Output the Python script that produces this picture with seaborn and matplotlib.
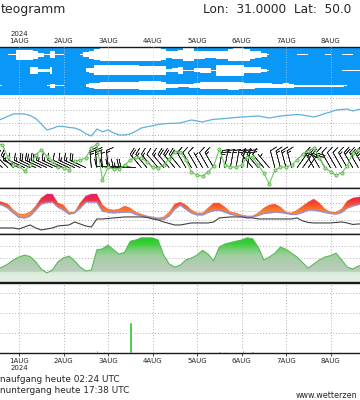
import numpy as np
import matplotlib
matplotlib.use('Agg')
import matplotlib.pyplot as plt
from matplotlib.colors import LinearSegmentedColormap
import seaborn as sns

sns.set_style('white')
plt.rcParams['font.family'] = ['DejaVu Sans']

# 3-hourly steps, hours after 1 Aug 2024 00 UTC
hours = np.arange(-12, 189, 3)

day_hours = [0, 24, 48, 72, 96, 120, 144, 168]
day_labels = ['1AUG', '2AUG', '3AUG', '4AUG', '5AUG', '6AUG', '7AUG', '8AUG']

# cloud cover (0..1) per layer
high_cloud = [0, 0, 0.1, 0.1, 0.75, 0.75, 0.75, 0.6, 0.3, 0.1, 0.5, 0.1, 0.1, 0, 0, 0.1,
              0.4, 0.6, 0.8, 1, 1, 1, 1, 1, 1, 1, 1, 1, 1, 1, 0.8, 0.5,
              0.6, 0.7, 1, 1, 0.6, 0.6, 0.5, 0.5, 0.6, 0.6, 0.9, 1, 1, 0.9, 0.6, 0.5,
              0.3, 0.1, 0, 0, 0, 0, 0.1, 0.1, 0.1, 0, 0, 0.1, 0.1, 0, 0.1, 0.1,
              0.1, 0, 0]
mid_cloud = [0, 0, 0, 0, 0, 0, 0.5, 0.5, 0.2, 0.2, 0.5, 0, 0, 0, 0, 0,
             0.3, 0.4, 0.75, 0.75, 0.75, 0.75, 0.75, 0.75, 0.75, 0.75, 0.65, 0.65, 0.65, 0.65, 0.65, 0.2,
             0.3, 0.5, 0.1, 0.1, 0.3, 0.4, 0.4, 0.1, 0.85, 0.85, 0.85, 0.85, 0.8, 0.45, 0.45, 0.45,
             0.2, 0.1, 0, 0, 0, 0, 0, 0, 0, 0, 0, 0, 0, 0, 0.1, 0.1,
             0.1, 0.1, 0.1]
low_cloud = [0.1, 0.1, 0, 0, 0, 0, 0, 0, 0, 0.1, 0.3, 0.1, 0.1, 0, 0, 0,
             0.2, 0.35, 0.45, 0.55, 0.55, 0.55, 0.55, 0.55, 0.55, 0.55, 0.65, 0.65, 0.65, 0.65, 0.6, 0.3,
             0.3, 0.25, 0.25, 0.3, 0.4, 0.5, 0.5, 0.5, 0.5, 0.5, 0.6, 0.6, 0.5, 0.45, 0.45, 0.4,
             0.4, 0.35, 0.3, 0.3, 0.35, 0.3, 0.15, 0.15, 0.15, 0.15, 0.15, 0.15, 0.15, 0.15, 0.15, 0.08,
             0, 0, 0]

# sea level pressure, hPa
pressure = [1010.6, 1011.5, 1012.5, 1013.4, 1013.5, 1013.4, 1012.8, 1011.6, 1009.5, 1007.0, 1007.6,
            1008.5, 1008.4, 1008.0, 1007.8, 1007.0, 1005.5, 1004.6, 1007.4, 1006.3, 1007.0, 1005.8,
            1005.0, 1005.0, 1005.4, 1006.5, 1007.8, 1008.3, 1008.7, 1009.2, 1009.5, 1009.6, 1009.7,
            1009.8, 1010.4, 1011.0, 1010.6, 1010.2, 1010.8, 1011.3, 1011.4, 1011.6, 1011.8, 1012.0,
            1012.2, 1012.3, 1012.5, 1012.6, 1012.2, 1011.8, 1012.2, 1012.6, 1012.8, 1013.0, 1013.2,
            1013.0, 1012.6, 1012.2, 1012.8, 1013.6, 1014.2, 1015.0, 1015.2, 1015.4, 1014.6, 1015.2,
            1015.6]

# wind speed m/s and direction (deg, from)
wind_speed = [14.4, 13.7, 9.9, 7.3, 7.0, 5.4, 7.3, 10.5, 12.1, 10.2, 8.6, 6.7, 6.4, 5.7, 8.6, 8.9,
              9.6, 12.8, 14.0, 2.6, 6.7, 6.1, 6.1, 7.3, 8.9, 9.9, 9.6, 8.3, 6.7, 6.4, 7.3, 9.3,
              11.5, 11.5, 8.9, 5.1, 4.1, 3.8, 5.1, 7.0, 12.4, 7.3, 6.7, 6.7, 7.3, 9.9, 9.9, 7.3,
              4.8, 1.3, 5.7, 6.7, 6.7, 7.3, 8.9, 10.8, 11.8, 12.8, 9.6, 6.4, 5.1, 4.1, 4.8, 7.0,
              11.2, 12.1, 12.1]
wind_dir = [315, 315, 315, 315, 295, 295, 295, 295, 295, 295, 295, 295, 295, 295, 295, 295,
            295, 355, 355, 355, 355, 275, 275, 275, 275, 275, 320, 320, 320, 320, 320, 320,
            320, 320, 330, 330, 330, 330, 330, 330, 10, 10, 10, 10, 10, 10, 320, 320,
            320, 320, 345, 345, 345, 345, 35, 35, 35, 330, 330, 330, 330, 330, 330, 330,
            330, 330, 330]

# temperature band (upper / lower edge) and lower dark line, deg C
temp_high = [26.2, 25.6, 24.4, 20.8, 18.4, 18.4, 19.6, 23.2, 28.0, 30.4, 30.4, 25.0, 23.8, 19.6,
             19.6, 25.0, 29.2, 30.4, 30.4, 23.8, 21.4, 20.8, 21.4, 23.2, 22.0, 19.6, 18.4, 17.3,
             16.7, 16.1, 16.7, 19.6, 24.4, 25.6, 23.8, 20.8, 19.1, 19.1, 22.0, 25.0, 25.0, 22.6,
             19.6, 19.1, 17.9, 17.3, 17.3, 19.1, 22.0, 23.8, 24.4, 22.6, 19.6, 19.1, 20.8, 23.2,
             25.6, 27.4, 25.0, 21.4, 19.6, 19.6, 21.4, 26.2, 28.0, 28.6, 28.6]
temp_low = [24.4, 23.8, 22.0, 19.1, 16.5, 16.1, 17.3, 20.8, 24.4, 25.3, 25.6, 22.6, 20.8, 18.4,
            19.1, 22.0, 25.6, 25.6, 25.6, 20.2, 19.6, 19.1, 19.4, 19.6, 19.6, 18.2, 17.3, 16.7,
            16.1, 15.5, 15.2, 17.3, 21.4, 23.8, 21.4, 19.1, 17.9, 17.9, 19.4, 20.5, 20.8, 19.6,
            18.4, 17.6, 17.0, 16.7, 16.7, 17.6, 18.8, 19.1, 19.6, 19.4, 18.8, 18.2, 18.4, 19.4,
            20.8, 20.8, 20.2, 19.4, 18.8, 18.4, 19.4, 22.0, 23.2, 24.1, 24.4]
temp_dark = [10.1, 10.1, 10.1, 10.1, 9.5, 10.7, 11.9, 10.1, 8.9, 9.5, 10.1, 11.3, 11.6, 11.9,
             13.7, 12.5, 11.3, 10.7, 15.5, 15.5, 15.8, 16.1, 16.4, 16.7, 16.7, 16.7, 16.7, 16.4,
             15.5, 14.9, 13.7, 12.8, 11.9, 11.9, 12.5, 13.1, 13.1, 13.1, 13.1, 13.7, 16.1, 16.4,
             16.7, 16.7, 16.7, 16.1, 16.1, 15.5, 15.5, 15.5, 15.5, 15.5, 15.5, 15.5, 16.1, 14.3,
             13.4, 13.1, 13.1, 13.1, 13.1, 13.4, 13.7, 13.1, 12.2, 12.5, 12.5]

# relative humidity %
humidity = [27, 31, 37.5, 46, 52, 56, 53, 42, 27, 19, 25, 42, 50, 54, 44, 31,
            23, 25, 67, 69, 77, 67, 58, 62, 85, 87.5, 92, 92, 92, 87.5, 56, 37.5,
            31, 35, 46, 50, 56, 66, 58, 44, 73, 79, 82, 85, 87.5, 92, 90, 73,
            46, 52, 60, 73, 68, 60, 52, 40, 29, 37.5, 46, 52, 55, 60, 46, 31,
            27, 33, 37.5]

# precipitation mm / 3h
rain_green = [0] * 18 + [0.3, 0, 0.15, 0.15, 0, 0, 3.1, 0.15] + [0] * 14 + \
             [0.2, 0.2, 0, 0, 0, 0, 0.2, 0.15] + [0] * 19
rain_red = [0] * 19 + [0.2] + [0] * 24 + [0.35, 0, 0, 0, 0, 0.1] + [0] * 17

xlim = (-10.25, 183.9)
grid_kw = dict(color='#b0b0b0', linestyle=(0, (1, 2)), linewidth=0.7)

fig = plt.figure(figsize=(3.6, 4.0), dpi=100)


def panel(top, bottom):
    ax = fig.add_axes([0, 1 - bottom / 400, 1, (bottom - top) / 400])
    ax.set_xlim(*xlim)
    ax.set_xticks(day_hours)
    ax.tick_params(left=False, labelleft=False, bottom=False, labelbottom=False)
    for s in ['left', 'right']:
        ax.spines[s].set_visible(False)
    for s in ['top', 'bottom']:
        ax.spines[s].set_color('#1a1a1a')
        ax.spines[s].set_linewidth(1.0)
    ax.grid(True, **grid_kw)
    return ax


# clouds
ax_c = panel(47, 95)
ax_c.set_facecolor('#0a98f8')
ax_c.set_ylim(-0.1, 3.0)
ax_c.set_yticks([])
ax_c.grid(False)
ax_c.grid(True, axis='x', color='#b8cfe0', linestyle=(0, (1, 2)), linewidth=0.6)
ax_c.set_axisbelow(False)
for lvl, cover in [(2.5, high_cloud), (1.5, mid_cloud), (0.5, low_cloud)]:
    cover = np.array(cover)
    ax_c.fill_between(hours, lvl - 0.43 * cover, lvl + 0.43 * cover, where=cover > 0,
                      step='mid', color='white', lw=0, zorder=1)
ax_c.spines['bottom'].set_visible(False)
ax_c.xaxis.set_ticks_position('top')
ax_c.set_xticklabels(['2024\n' + day_labels[0]] + day_labels[1:])
ax_c.tick_params(axis='x', top=False, labeltop=True, labelbottom=False, length=0,
                 pad=2, labelsize=5)
for lab in ax_c.get_xticklabels():
    lab.set_linespacing(1.3)

# pressure
ax_p = panel(95, 141)
ax_p.set_ylim(1002.6, 1021)
ax_p.set_yticks([1005, 1010, 1015, 1020])
ax_p.spines['top'].set_visible(False)
sns.lineplot(x=hours, y=pressure, ax=ax_p, color='#5eb2dc', lw=0.9)

# wind
ax_w = panel(141, 188)
ax_w.set_ylim(0, 15)
ax_w.set_yticks([5, 10])
spd = np.array(wind_speed) * 1.94
rad = np.deg2rad(wind_dir)
ax_w.barbs(hours, np.full(len(hours), 6.5), -spd * np.sin(rad), -spd * np.cos(rad),
           length=5.0, linewidth=0.45, color='#202020', zorder=2)
sns.lineplot(x=hours, y=wind_speed, ax=ax_w, color='#6cc85a', lw=0.8, marker='o',
             markersize=2.3, markerfacecolor='#b0e8a4', markeredgecolor='#4aa83c',
             markeredgewidth=0.5, zorder=3)

# temperature
ax_t = panel(188, 234)
ax_t.set_ylim(6.5, 34)
ax_t.set_yticks([10, 15, 20, 25, 30])
tcmap = LinearSegmentedColormap.from_list('temp', [
    (0.0, '#f0b870'), (0.273, '#f0a860'), (0.418, '#f59038'), (0.527, '#f87a2a'),
    (0.636, '#fa5228'), (0.745, '#f02e40'), (0.855, '#e01c80'), (0.964, '#c81090'),
    (1.0, '#c01098')])
band = ax_t.fill_between(hours, temp_low, temp_high, facecolor='none', edgecolor='none')
img = ax_t.imshow(np.linspace(6.5, 34, 256)[:, None], extent=(hours[0], hours[-1], 6.5, 34),
                  origin='lower', aspect='auto', cmap=tcmap, zorder=2)
img.set_clip_path(band.get_paths()[0], transform=ax_t.transData)
sns.lineplot(x=hours, y=temp_high, ax=ax_t, color='#e8503a', lw=0.5, zorder=3, alpha=0.6)
sns.lineplot(x=hours, y=temp_low, ax=ax_t, color='#9c8ccc', lw=1.1, zorder=3)
sns.lineplot(x=hours, y=temp_dark, ax=ax_t, color='#404040', lw=0.8, zorder=3)
ax_t.set_xlim(*xlim)
ax_t.set_ylim(6.5, 34)

# humidity
ax_h = panel(234, 282)
ax_h.set_ylim(0, 100)
ax_h.set_yticks([25, 50, 75])
hcmap = LinearSegmentedColormap.from_list('rh', [
    (0.0, '#e4f2e4'), (0.2, '#dcecdc'), (0.22, '#bccebc'), (0.4, '#b0ccb0'),
    (0.55, '#a0d0a0'), (0.7, '#70cc70'), (0.8, '#38d038'), (1.0, '#10c810')])
area = ax_h.fill_between(hours, 0, humidity, facecolor='none', edgecolor='none')
img = ax_h.imshow(np.linspace(0, 100, 256)[:, None], extent=(hours[0], hours[-1], 0, 100),
                  origin='lower', aspect='auto', cmap=hcmap, zorder=1)
img.set_clip_path(area.get_paths()[0], transform=ax_h.transData)
sns.lineplot(x=hours, y=humidity, ax=ax_h, color='#5cb85c', lw=0.8, zorder=3)
ax_h.set_xlim(*xlim)
ax_h.set_ylim(0, 100)

# precipitation
ax_r = panel(283, 353)
ax_r.set_ylim(0, 7)
ax_r.set_yticks([2, 4, 6])
ax_r.bar(hours, rain_green, width=1.4, color='#22c822', zorder=2)
ax_r.bar(hours + 0.8, rain_red, width=1.4, color='#c8502a', zorder=2)
ax_r.set_xticklabels([day_labels[0] + '\n2024'] + day_labels[1:])
ax_r.tick_params(axis='x', bottom=True, labelbottom=True, length=2, width=0.6,
                 pad=1.5, labelsize=5)
for lab in ax_r.get_xticklabels():
    lab.set_linespacing(1.3)

# texts (as far as they are visible in the cropped original)
fig.text(1 / 360, 1 - 13 / 400, 'teogramm', fontsize=9, va='baseline', ha='left')
fig.text(203 / 360, 1 - 13 / 400, 'Lon:  31.0000  Lat:  50.0', fontsize=8.7,
         va='baseline', ha='left')
fig.text(0.5 / 360, 1 - 382 / 400, 'naufgang heute 02:24 UTC', fontsize=6.4,
         va='baseline', ha='left')
fig.text(0.5 / 360, 1 - 393 / 400, 'nuntergang heute 17:38 UTC', fontsize=6.4,
         va='baseline', ha='left')
fig.text(296 / 360, 1 - 398 / 400, 'www.wetterzen', fontsize=5.8,
         va='baseline', ha='left')

fig.savefig('out.png', dpi=100)
